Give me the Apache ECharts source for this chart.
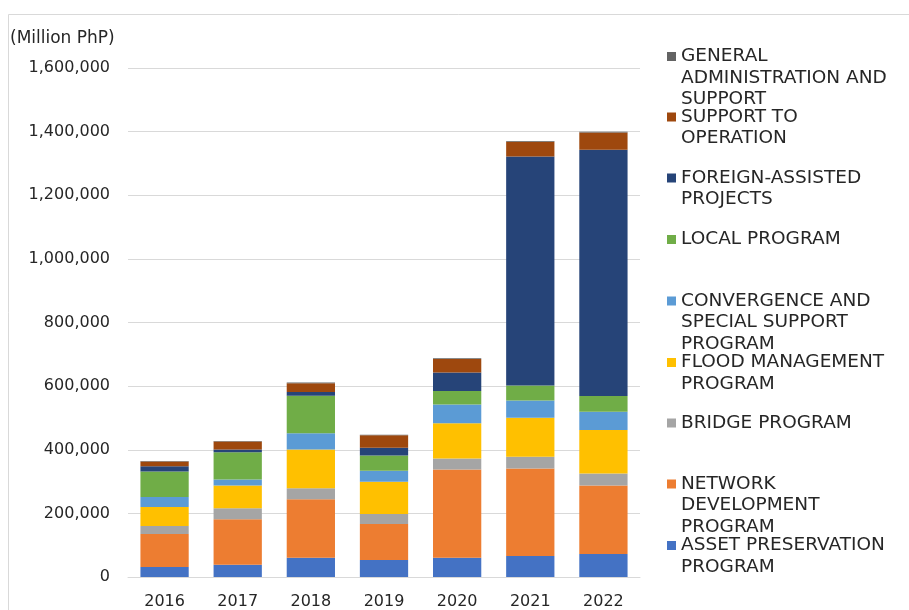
<!DOCTYPE html>
<html>
<head>
<meta charset="utf-8">
<title>DPWH budget by program, 2016-2022</title>
<script src="https://cdn.jsdelivr.net/npm/echarts@6/dist/echarts.min.js"></script>
<style>
  html, body { margin: 0; padding: 0; background: #ffffff; }
  #chart { width: 909px; height: 610px; }
</style>
</head>
<body>
<div id="chart"></div>
<script>
// Budget by program, in million PhP
const years = ['2016', '2017', '2018', '2019', '2020', '2021', '2022'];

const assetPreservation   = [31300, 38500, 60400, 53200, 60400, 65800, 72000];
const networkDevelopment  = [104000, 143000, 183800, 113700, 277700, 275500, 216000];
const bridgeProgram       = [25000, 34400, 34400, 31300, 34400, 36600, 37600];
const floodManagement     = [59500, 72000, 122000, 101400, 110500, 123000, 136800];
const convergenceSpecial  = [31300, 18800, 51000, 34400, 59500, 54200, 57300];
const localProgram        = [80500, 85500, 118000, 47900, 42000, 47000, 49200];
const foreignAssisted     = [16600, 8400, 11600, 24100, 58200, 720000, 774300];
const supportToOperation  = [14700, 25000, 28200, 39500, 42900, 46000, 54200];
const generalAdmin        = [2000, 2200, 2300, 1800, 2100, 2400, 2500];

const yTicks = [0, 200000, 400000, 600000, 800000, 1000000, 1200000, 1400000, 1600000];

// Stack order, bottom to top
const seriesDefs = [
  { name: 'ASSET PRESERVATION PROGRAM', data: assetPreservation, color: '#4472C4',
    lines: ['ASSET PRESERVATION', 'PROGRAM'] },
  { name: 'NETWORK DEVELOPMENT PROGRAM', data: networkDevelopment, color: '#ED7D31',
    lines: ['NETWORK', 'DEVELOPMENT', 'PROGRAM'] },
  { name: 'BRIDGE PROGRAM', data: bridgeProgram, color: '#A5A5A5',
    lines: ['BRIDGE PROGRAM'] },
  { name: 'FLOOD MANAGEMENT PROGRAM', data: floodManagement, color: '#FFC000',
    lines: ['FLOOD MANAGEMENT', 'PROGRAM'] },
  { name: 'CONVERGENCE AND SPECIAL SUPPORT PROGRAM', data: convergenceSpecial, color: '#5B9BD5',
    lines: ['CONVERGENCE AND', 'SPECIAL SUPPORT', 'PROGRAM'] },
  { name: 'LOCAL PROGRAM', data: localProgram, color: '#70AD47',
    lines: ['LOCAL PROGRAM'] },
  { name: 'FOREIGN-ASSISTED PROJECTS', data: foreignAssisted, color: '#264478',
    lines: ['FOREIGN-ASSISTED', 'PROJECTS'] },
  { name: 'SUPPORT TO OPERATION', data: supportToOperation, color: '#9E480E',
    lines: ['SUPPORT TO', 'OPERATION'] },
  { name: 'GENERAL ADMINISTRATION AND SUPPORT', data: generalAdmin, color: '#636363',
    lines: ['GENERAL', 'ADMINISTRATION AND', 'SUPPORT'] }
];

const FONT = 'DejaVu Sans';
const TEXT_COLOR = '#262626';
const LEGEND_LH = 21.5;
const LEGEND_FS = 18.5;

// Legend entries listed top to bottom, one slot each
const legendOrder = seriesDefs.slice().reverse();
const legendFirstLineY = [56.5, 117, 178, 239.5, 301, 362.5, 423, 484, 545.5];

const legends = legendOrder.map((d, i) => {
  const n = d.lines.length;
  return {
    data: [d.name],
    orient: 'vertical',
    left: 667,
    top: legendFirstLineY[i] - (2 * n - 1) * LEGEND_LH / 2,
    padding: 0,
    icon: 'rect',
    itemWidth: 9,
    itemHeight: 9,
    selectedMode: false,
    // leading blank lines keep the marker level with the first text line
    formatter: () => '\n'.repeat(n - 1) + d.lines.join('\n'),
    textStyle: {
      fontFamily: FONT,
      fontSize: LEGEND_FS,
      lineHeight: LEGEND_LH,
      color: TEXT_COLOR
    }
  };
});

const chart = echarts.init(document.getElementById('chart'), null, { renderer: 'canvas' });

chart.setOption({
  animation: false,
  backgroundColor: '#ffffff',
  title: {
    text: '(Million PhP)',
    left: 5,
    top: 25,
    textStyle: { fontFamily: FONT, fontSize: 17, fontWeight: 'normal', color: TEXT_COLOR }
  },
  // thin frame along the top and left edges of the chart area
  graphic: [
    {
      type: 'line',
      shape: { x1: 8.5, y1: 14.5, x2: 909, y2: 14.5 },
      style: { stroke: '#d9d9d9', lineWidth: 1 },
      silent: true
    },
    {
      type: 'line',
      shape: { x1: 8.5, y1: 14.5, x2: 8.5, y2: 610 },
      style: { stroke: '#d9d9d9', lineWidth: 1 },
      silent: true
    }
  ],
  legend: legends,
  grid: { left: 128, right: 269, top: 68, bottom: 31 },
  xAxis: {
    type: 'category',
    data: years,
    axisLine: { lineStyle: { color: '#d9d9d9', width: 1 } },
    axisTick: { show: false },
    axisLabel: { fontFamily: FONT, fontSize: 16, color: TEXT_COLOR, margin: 17 }
  },
  yAxis: {
    type: 'value',
    min: yTicks[0],
    max: yTicks[yTicks.length - 1],
    interval: yTicks[1] - yTicks[0],
    axisLine: { show: false },
    axisTick: { show: false },
    splitLine: { lineStyle: { color: '#d9d9d9', width: 1 } },
    axisLabel: {
      fontFamily: FONT,
      fontSize: 16,
      color: TEXT_COLOR,
      margin: 18,
      formatter: v => v.toLocaleString('en-US')
    }
  },
  series: seriesDefs.map(d => ({
    name: d.name,
    type: 'bar',
    stack: 'total',
    barCategoryGap: '34%',
    data: d.data,
    itemStyle: { color: d.color },
    emphasis: { disabled: true }
  }))
});
</script>
</body>
</html>
